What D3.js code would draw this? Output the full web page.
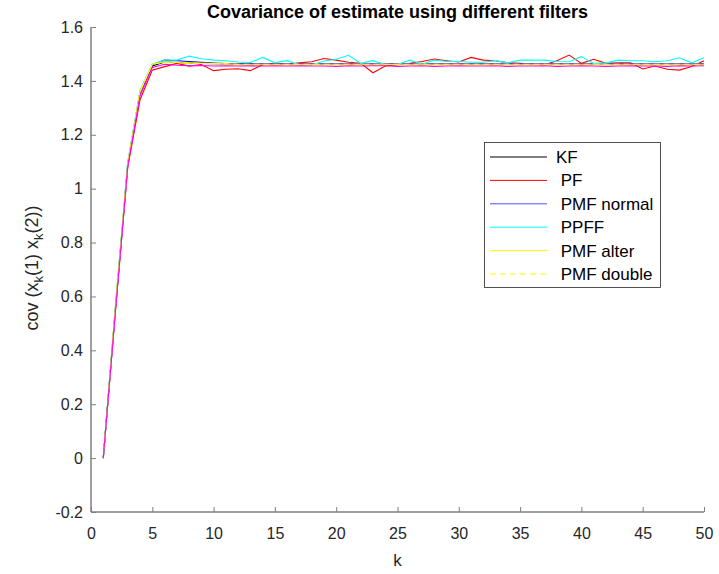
<!DOCTYPE html>
<html><head><meta charset="utf-8">
<script src="https://cdn.jsdelivr.net/npm/d3@7"></script>
<style>body{margin:0;background:#fff}svg{font-family:"Liberation Sans",Arial,sans-serif}</style>
</head><body><svg id="c" width="719" height="574"></svg>
<script>
const kValues = d3.range(1, 51);
const xTicks = [0,5,10,15,20,25,30,35,40,45,50];
const yTicks = [-0.2,0,0.2,0.4,0.6,0.8,1,1.2,1.4,1.6];
const yTickLabels = ["-0.2","0","0.2","0.4","0.6","0.8","1","1.2","1.4","1.6"];
const seriesNames = ["KF"," PF"," PMF normal"," PPFF"," PMF alter"," PMF double"];
const seriesColors = ["#000000","#ff0000","#0000ff","#00ffff","#ffff00","#ffff00","#ff00ff"];
const legendColors = ["#000000","#ff0000","#5050ff","#00ffff","#ffff00","#ffff00"];

const kf = [0,0.56,1.09,1.355,1.455,1.47,1.468,1.466,1.465,1.464,1.463,1.463,1.463,1.462,1.462,1.462,1.462,1.462,1.462,1.462,1.462,1.462,1.462,1.462,1.462,1.462,1.462,1.462,1.462,1.462,1.462,1.462,1.462,1.462,1.462,1.462,1.462,1.462,1.462,1.462,1.462,1.462,1.462,1.462,1.462,1.462,1.462,1.462,1.462,1.462];
const pf = [0,0.55,1.08,1.33,1.44,1.453,1.465,1.455,1.461,1.438,1.443,1.445,1.438,1.46,1.465,1.462,1.467,1.471,1.483,1.477,1.469,1.465,1.43,1.455,1.46,1.465,1.472,1.481,1.475,1.47,1.487,1.477,1.475,1.467,1.465,1.462,1.46,1.475,1.496,1.465,1.48,1.465,1.467,1.467,1.444,1.455,1.443,1.44,1.453,1.475];
const pmfNormal = [0,0.56,1.095,1.36,1.46,1.477,1.475,1.472,1.469,1.466,1.464,1.463,1.463,1.463,1.463,1.463,1.463,1.463,1.463,1.463,1.463,1.463,1.463,1.463,1.463,1.463,1.463,1.463,1.463,1.463,1.463,1.463,1.463,1.463,1.463,1.463,1.463,1.463,1.463,1.463,1.463,1.463,1.463,1.463,1.463,1.463,1.463,1.463,1.463,1.463];
const ppff = [0,0.57,1.1,1.365,1.462,1.477,1.477,1.492,1.482,1.477,1.475,1.47,1.468,1.487,1.468,1.475,1.459,1.459,1.474,1.48,1.495,1.465,1.475,1.461,1.461,1.477,1.462,1.477,1.472,1.472,1.469,1.469,1.475,1.467,1.477,1.477,1.477,1.472,1.471,1.49,1.465,1.467,1.477,1.475,1.475,1.471,1.475,1.486,1.467,1.486];
const pmfAlter = [0,0.565,1.095,1.36,1.462,1.47,1.468,1.466,1.465,1.464,1.463,1.462,1.462,1.462,1.462,1.462,1.462,1.462,1.462,1.462,1.462,1.462,1.462,1.462,1.462,1.462,1.462,1.462,1.462,1.462,1.462,1.462,1.462,1.462,1.462,1.462,1.462,1.462,1.462,1.462,1.462,1.462,1.462,1.462,1.462,1.462,1.462,1.462,1.462,1.462];
const pmfDouble = [0,0.565,1.095,1.36,1.462,1.47,1.468,1.466,1.465,1.464,1.463,1.462,1.462,1.462,1.462,1.462,1.462,1.462,1.462,1.462,1.462,1.462,1.462,1.462,1.462,1.462,1.462,1.462,1.462,1.462,1.462,1.462,1.462,1.462,1.462,1.462,1.462,1.462,1.462,1.462,1.462,1.462,1.462,1.462,1.462,1.462,1.462,1.462,1.462,1.462];
const extra = [0,0.55,1.085,1.345,1.45,1.462,1.458,1.456,1.457,1.455,1.456,1.455,1.456,1.455,1.456,1.455,1.456,1.455,1.455,1.454,1.456,1.455,1.456,1.456,1.454,1.455,1.456,1.454,1.455,1.456,1.455,1.455,1.456,1.454,1.455,1.455,1.456,1.454,1.455,1.456,1.455,1.454,1.455,1.456,1.455,1.455,1.454,1.456,1.455,1.456];

const allSeries = [kf, pf, pmfNormal, ppff, pmfAlter, pmfDouble, extra];

const svg = d3.select("#c");
const L = 91, R = 704, T = 27, B = 512;
const x = d3.scaleLinear().domain([0,50]).range([L,R]);
const y = d3.scaleLinear().domain([-0.2,1.6]).range([B,T]);
const axisColor = "#7f7f7f", textColor = "#262626";

const line = d3.line().x((d,i)=>x(kValues[i])).y(d=>y(d));
const g = svg.append("g");
allSeries.forEach((s,i)=>{
  g.append("path").attr("d", line(s)).attr("fill","none")
   .attr("stroke", seriesColors[i]).attr("stroke-width",1.1)
   .attr("stroke-dasharray", i===5 ? "6,4" : null);
});

// axes
const xAxis = svg.append("g").attr("transform",`translate(0,${B})`)
  .call(d3.axisBottom(x).tickValues(xTicks).tickSize(-5).tickPadding(16).tickFormat(d3.format("d")));
const yAxis = svg.append("g").attr("transform",`translate(${L},0)`)
  .call(d3.axisLeft(y).tickValues(yTicks).tickSize(-5).tickPadding(8).tickFormat((d,i)=>yTickLabels[i]));
[xAxis,yAxis].forEach(a=>{
  a.select(".domain").attr("stroke",axisColor).attr("stroke-width",1.5).attr("d", a===xAxis ? `M${L},0H${R}` : `M0,${B}V${T}`);
  a.selectAll(".tick line").attr("stroke",axisColor);
  a.selectAll(".tick text").attr("fill",textColor).attr("font-size",16).attr("font-family","Liberation Sans, Arial, sans-serif");
});

svg.append("text").attr("x",(L+R)/2).attr("y",18).attr("text-anchor","middle")
  .attr("font-weight","bold").attr("font-size",18).attr("fill","#000").text("Covariance of estimate using different filters");
svg.append("text").attr("x",(L+R)/2).attr("y",566).attr("text-anchor","middle")
  .attr("font-size",17).attr("fill",textColor).text("k");

const yl = svg.append("text").attr("transform","translate(38,268) rotate(-90)").attr("text-anchor","middle")
  .attr("font-size",18).attr("fill",textColor);
yl.append("tspan").text("cov (x");
yl.append("tspan").attr("font-size",13).attr("dy",5).text("k");
yl.append("tspan").attr("dy",-5).text("(1) x");
yl.append("tspan").attr("font-size",13).attr("dy",5).text("k");
yl.append("tspan").attr("dy",-5).text("(2))");

// legend
const lg = svg.append("g");
lg.append("rect").attr("x",484.5).attr("y",142.5).attr("width",176).attr("height",145)
  .attr("fill","#fff").attr("stroke","#262626").attr("stroke-width",0.8);
seriesNames.forEach((n,i)=>{
  const yy = 157 + i*23.4;
  lg.append("line").attr("x1",490).attr("x2",547).attr("y1",yy).attr("y2",yy)
    .attr("stroke",legendColors[i]).attr("stroke-width",1)
    .attr("stroke-dasharray", i===5 ? "6,4" : null);
  lg.append("text").attr("x",556).attr("y",yy+6).attr("font-size",17).attr("fill","#000")
    .attr("xml:space","preserve").style("white-space","pre").text(n);
});
</script></body></html>
